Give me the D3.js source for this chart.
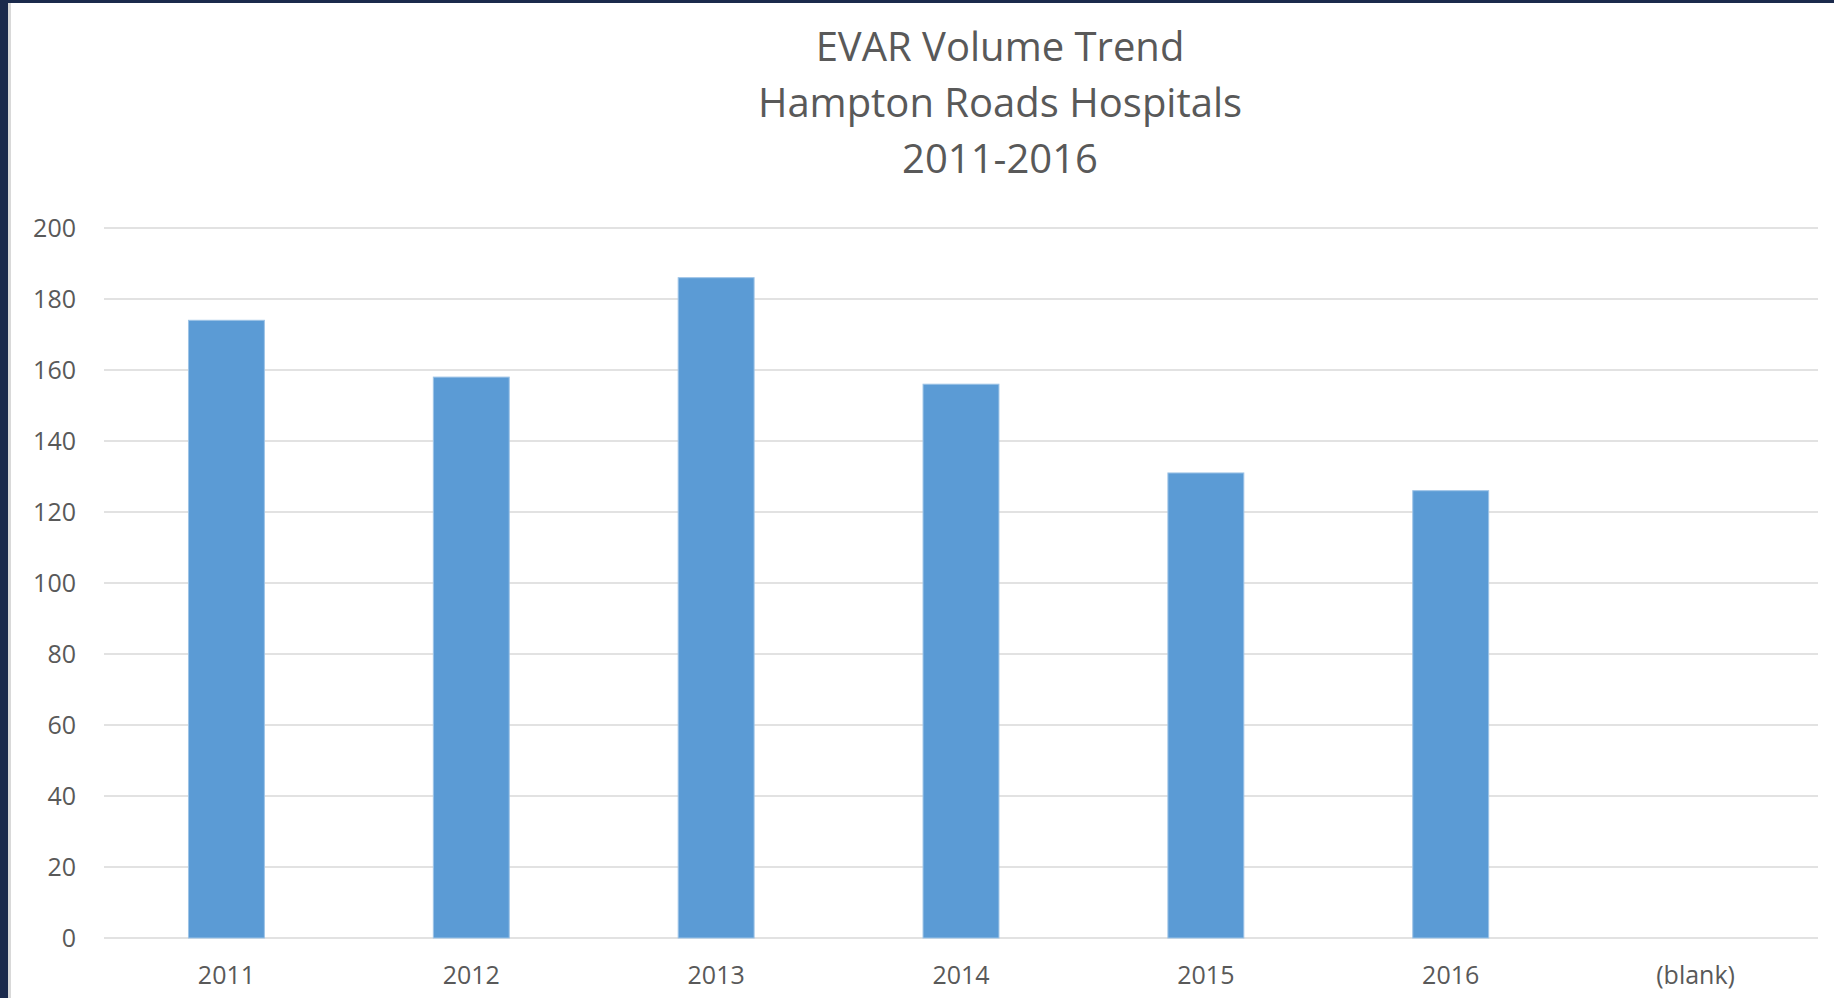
<!DOCTYPE html>
<html>
<head>
<meta charset="utf-8">
<script src="https://cdn.jsdelivr.net/npm/d3@7"></script>
<style>
  html, body { margin: 0; padding: 0; background: #1b2a4c; }
  .chart { position: absolute; left: 0; top: 0; }
  text { font-family: "Open Sans", "DejaVu Sans", sans-serif; fill: #595959; }
</style>
</head>
<body>
<div class="chart"></div>
<script>
var svgWidth = 1834;
var svgHeight = 998;

// chart data
var years = ["2011", "2012", "2013", "2014", "2015", "2016", "(blank)"];
var volumes = [174, 158, 186, 156, 131, 126, null];
var yTicks = [0, 20, 40, 60, 80, 100, 120, 140, 160, 180, 200];
var titleLines = ["EVAR Volume Trend", "Hampton Roads Hospitals", "2011-2016"];

var margin = { top: 228, right: 16, bottom: 60, left: 104 };
var width = svgWidth - margin.left - margin.right;
var height = 938 - margin.top;

var svg = d3.select(".chart")
  .append("svg")
  .attr("width", svgWidth)
  .attr("height", svgHeight);

// dark frame + white chart area
svg.append("rect")
  .attr("x", 0).attr("y", 0)
  .attr("width", svgWidth).attr("height", svgHeight)
  .attr("fill", "#1b2a4c");
svg.append("rect")
  .attr("x", 8).attr("y", 3)
  .attr("width", svgWidth - 8).attr("height", svgHeight - 3)
  .attr("fill", "#d9d9d9");
svg.append("rect")
  .attr("x", 11).attr("y", 3)
  .attr("width", svgWidth - 11).attr("height", svgHeight - 3)
  .attr("fill", "#ffffff");

var chartGroup = svg.append("g")
  .attr("transform", `translate(${margin.left}, ${margin.top})`);

var xScale = d3.scaleBand()
  .domain(years)
  .range([0, width])
  .paddingInner(0)
  .paddingOuter(0);

var yScale = d3.scaleLinear()
  .domain([0, 200])
  .range([height, 0]);

// gridlines
chartGroup.append("g")
  .selectAll("line")
  .data(yTicks)
  .enter()
  .append("line")
  .attr("x1", 0)
  .attr("x2", width)
  .attr("y1", d => yScale(d))
  .attr("y2", d => yScale(d))
  .attr("stroke", "#d9d9d9")
  .attr("stroke-width", 1.5);

// y axis labels
var leftAxis = d3.axisLeft(yScale).tickValues(yTicks).tickSize(0).tickPadding(28);
var yAxis = chartGroup.append("g").call(leftAxis);
yAxis.select(".domain").remove();
yAxis.selectAll("text")
  .style("font-size", "25px")
  .attr("fill", "#595959");

// x axis labels
var bottomAxis = d3.axisBottom(xScale).tickSize(0).tickPadding(28);
var xAxis = chartGroup.append("g")
  .attr("transform", `translate(0, ${height})`)
  .call(bottomAxis);
xAxis.select(".domain").remove();
xAxis.selectAll("text")
  .style("font-size", "25px")
  .attr("fill", "#595959");

// bars
var barWidth = xScale.bandwidth() * 0.31;
var barData = years.map((y, i) => ({ year: y, value: volumes[i] })).filter(d => d.value !== null);

chartGroup.selectAll(".bar")
  .data(barData)
  .enter()
  .append("rect")
  .attr("class", "bar")
  .attr("x", d => xScale(d.year) + (xScale.bandwidth() - barWidth) / 2)
  .attr("y", d => yScale(d.value))
  .attr("width", barWidth)
  .attr("height", d => height - yScale(d.value))
  .attr("fill", "#5b9bd5")
  .attr("stroke", "#9dc3e6")
  .attr("stroke-width", 1);

// title
var titleX = 1000;
svg.append("g")
  .selectAll("text")
  .data(titleLines)
  .enter()
  .append("text")
  .attr("x", titleX)
  .attr("y", (d, i) => 61 + i * 56)
  .attr("text-anchor", "middle")
  .style("font-size", "40px")
  .text(d => d);
</script>
</body>
</html>
